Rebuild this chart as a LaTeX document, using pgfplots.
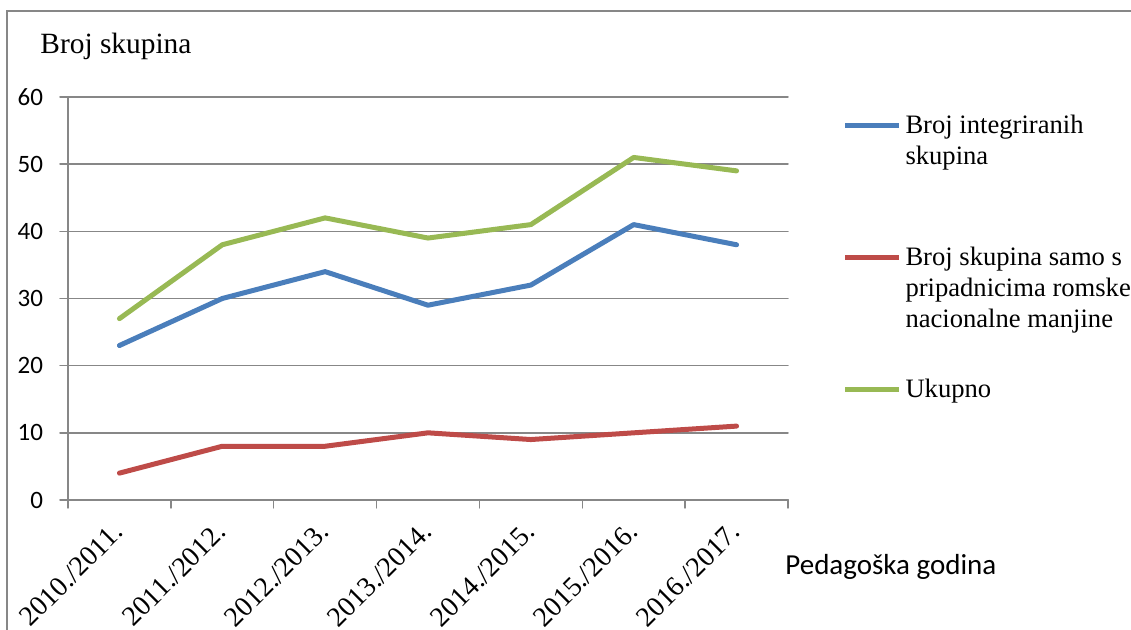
\documentclass[border=0pt]{standalone}
\usepackage{fontspec}
\setmainfont{Liberation Serif}
\newfontfamily\calibri{Carlito}
\newfontfamily\timesf{Liberation Serif}
\usepackage{pgfplots}
\pgfplotsset{compat=1.18}
\definecolor{cblue}{HTML}{4A7EBB}
\definecolor{cred}{HTML}{BE4B48}
\definecolor{cgreen}{HTML}{98B954}
\definecolor{cgrid}{HTML}{878787}
\begin{document}
\begin{tikzpicture}[x=1pt,y=1pt]
\draw[cgrid, line width=1pt] (3.5,-5) -- (3.5,309.5) -- (570,309.5);
\node[anchor=base west, inner sep=0pt, font=\rmfamily\fontsize{14.7}{16}\selectfont] at (20,288) {Broj skupina};
\node[anchor=base west, inner sep=0pt, font=\calibri\fontsize{14.5}{16}\selectfont] at (392.5,27.5) {Pedagoška godina};
\begin{axis}[
  at={(34pt,65pt)}, anchor=south west,
  scale only axis, width=360pt, height=201.5pt,
  xmin=-0.5, xmax=6.5, ymin=0, ymax=60,
  axis x line*=bottom, axis y line*=left,
  axis line style={cgrid, line width=0.75pt, -},
  ytick={0,10,...,60},
  ymajorgrids, grid style={cgrid, line width=0.75pt},
  xtick={0,...,6},
  xticklabels={\textrm{2010./2011.},\textrm{2011./2012.},\textrm{2012./2013.},\textrm{2013./2014.},\textrm{2014./2015.},\textrm{2015./2016.},\textrm{2016./2017.}},
  minor xtick={-0.5,0.5,...,6.5},
  major x tick style={draw=none},
  minor x tick style={cgrid, line width=0.75pt},
  y tick style={cgrid, line width=0.75pt},
  tick align=outside,
  major tick length=4pt, minor tick length=4pt,
  /pgf/number format/assume math mode=true,
  yticklabel style={font=\calibri\fontsize{12.5}{14}\selectfont, text=black, xshift=-5pt},
  xticklabel style={font=\timesf\fontsize{14}{16}\selectfont, rotate=45, anchor=east, xshift=-3.8pt, yshift=-6.5pt},
  legend style={draw=none, fill=none, font=\rmfamily\fontsize{13.3}{15.5}\selectfont,
    at={(1.0757,0.972)}, anchor=north west, inner sep=0pt, outer sep=0pt,
    row sep=20pt, column sep=0pt, cells={anchor=base west, inner sep=0pt}},
  line cap=round, line join=round,
]
\addplot[cblue, line width=2.5pt, legend image code/.code={\draw[cblue, line width=2.5pt] (0pt,33.5pt)--(27pt,33.5pt);}] coordinates {(0,23) (1,30) (2,34) (3,29) (4,32) (5,41) (6,38)};
\addlegendentry{\begin{tabular}[b]{@{}l@{}}Broj integriranih\\skupina\\[-1.5pt] \mbox{}\end{tabular}}
\addplot[cred, line width=2.5pt, legend image code/.code={\draw[cred, line width=2.5pt] (0pt,35pt)--(27pt,35pt);}] coordinates {(0,4) (1,8) (2,8) (3,10) (4,9) (5,10) (6,11)};
\addlegendentry{\begin{tabular}[b]{@{}l@{}}Broj skupina samo s\\pripadnicima romske\\nacionalne manjine\end{tabular}}
\addplot[cgreen, line width=2.5pt, legend image code/.code={\draw[cgreen, line width=2.5pt] (0pt,4pt)--(27pt,4pt);}] coordinates {(0,27) (1,38) (2,42) (3,39) (4,41) (5,51) (6,49)};
\addlegendentry{Ukupno}
\end{axis}
\pgfresetboundingbox
\useasboundingbox (0,0) rectangle (565.5,315);
\end{tikzpicture}
\end{document}
